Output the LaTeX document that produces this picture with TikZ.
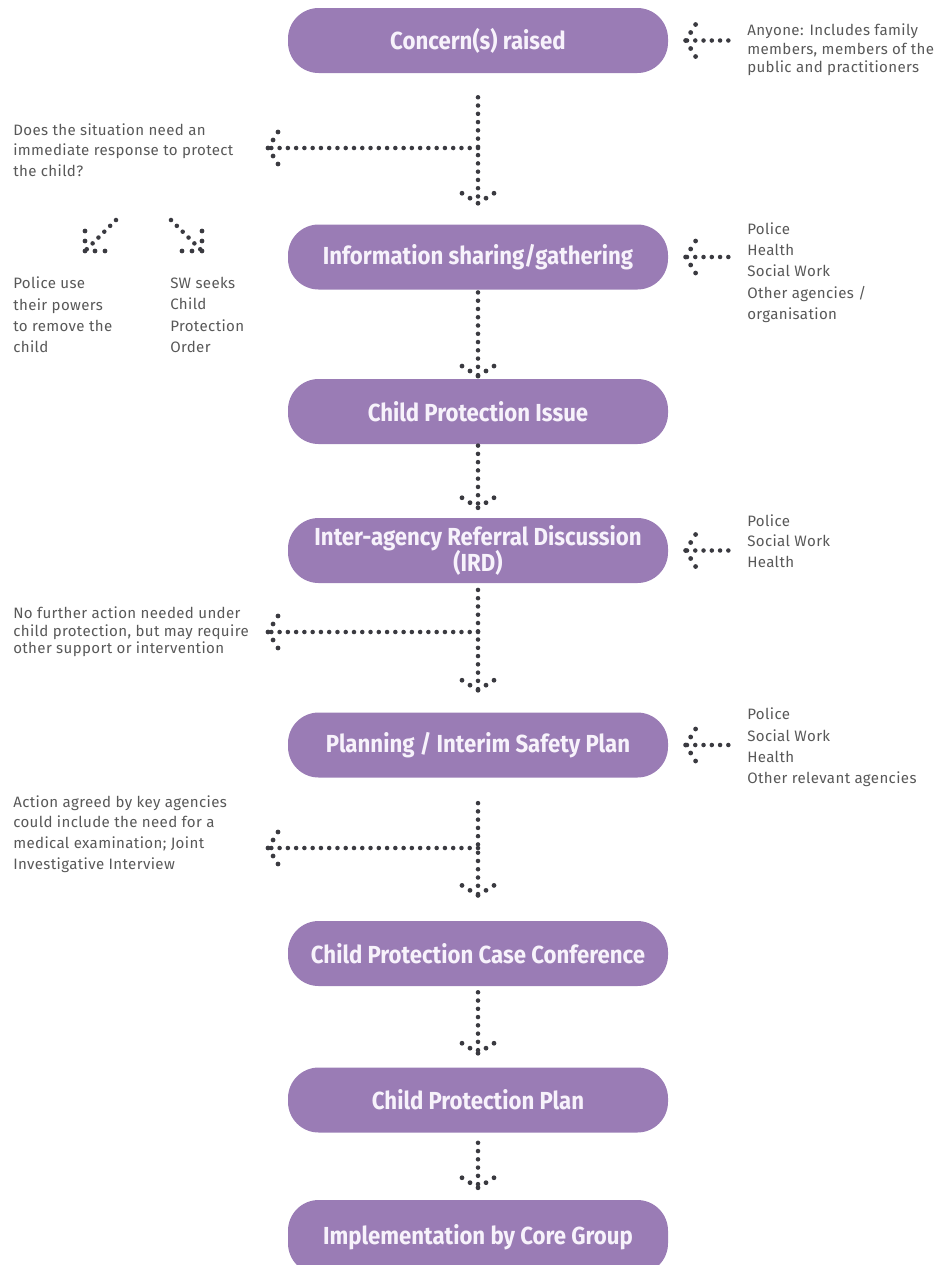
\documentclass[tikz,border=0pt]{standalone}
\usepackage{fontspec}
\setmainfont{Fira Sans}[LetterSpace=2.5]
\newfontfamily\stagefont[FakeStretch=0.9]{Fira Sans}
\usetikzlibrary{decorations.markings}
\definecolor{stagepurple}{RGB}{154,124,181}
\definecolor{stagetext}{RGB}{247,242,251}
\definecolor{dotgrey}{RGB}{58,58,64}
\definecolor{notegrey}{RGB}{88,88,88}

\begin{document}
\begin{tikzpicture}[x=0.75pt, y=-0.75pt]
        \tikzset{
          stage/.style={rectangle, rounded corners=23pt, fill=stagepurple, text=stagetext,
            minimum width=285pt, minimum height=48.75pt, inner sep=0pt, align=center,
            font=\stagefont\bfseries\fontsize{18.5}{20}\selectfont},
          note/.style={anchor=west, inner sep=0pt, text=notegrey, align=left,
            font=\fontsize{11.3}{15.5}\selectfont},
          dots/.style={draw=dotgrey, line width=3.4pt, line cap=round, dash pattern=on 0pt off 6.2pt},
          dotarrow/.style={dots, postaction=decorate, decoration={markings,
            mark=at position 1 with {\fill[dotgrey] (0pt,0pt) circle (1.8pt)
              (-3.8pt,6pt) circle (1.8pt) (-3.8pt,-6pt) circle (1.8pt)
              (-7.5pt,12pt) circle (1.8pt) (-7.5pt,-12pt) circle (1.8pt);}}},
          diagarrow/.style={dots, postaction=decorate, decoration={markings,
            mark=at position 1 with {\fill[dotgrey] (0pt,0pt) circle (1.8pt)
              (-5.3pt,5.3pt) circle (1.8pt) (-5.3pt,-5.3pt) circle (1.8pt)
              (-10.6pt,10.6pt) circle (1.8pt) (-10.6pt,-10.6pt) circle (1.8pt);}}},
        }
        \clip (0,0) rectangle (948,1265);
        % stages
        \node [stage] (concern) at (478,40.5) {Concern(s) raised};
        \node [stage] (info) at (478,257) {Information sharing/gathering};
        \node [stage] (issue) at (478,411.5) {Child Protection Issue};
        \node [stage] (ird) at (478,550.5) {Inter-agency Referral Discussion\\(IRD)};
        \node [stage] (planning) at (478,745) {Planning / Interim Safety Plan};
        \node [stage] (conference) at (478,953.5) {Child Protection Case Conference};
        \node [stage] (cpplan) at (478,1100) {Child Protection Plan};
        \node [stage, minimum height=55.5pt] (core) at (478,1237) {Implementation by Core Group};
        % who is involved
        \node [note, font=\fontsize{11.3}{14}\selectfont] (anyone) at (747,50) {Anyone: Includes family\\members, members of the\\public and practitioners};
        \node [note, font=\fontsize{11.3}{16}\selectfont] (gather) at (747,272.5) {Police\\Health\\Social Work\\Other agencies /\\organisation};
        \node [note] (irdwho) at (747,541) {Police\\Social Work\\Health};
        \node [note, font=\fontsize{11.3}{16}\selectfont] (planwho) at (747,747.5) {Police\\Social Work\\Health\\Other relevant agencies};
        % outcomes
        \node [note] (question) at (13,150) {Does the situation need an\\immediate response to protect\\the child?};
        \node [note, font=\fontsize{11.3}{16}\selectfont] (police) at (13,315) {Police use\\their powers\\to remove the\\child};
        \node [note, font=\fontsize{11.3}{16}\selectfont] (swseeks) at (170,315) {SW seeks\\Child\\Protection\\Order};
        \node [note, font=\fontsize{11.3}{13}\selectfont] (nofurther) at (13,632) {No further action needed under\\child protection, but may require\\other support or intervention};
        \node [note] (action) at (13,834) {Action agreed by key agencies\\could include the need for a\\medical examination; Joint\\Investigative Interview};
        \coordinate (qtip) at (268,148);
        \coordinate (nftip) at (268,632);
        \coordinate (actip) at (268,848);
        \coordinate (pfrom) at (116,220);
        \coordinate (pto) at (85,251);
        \coordinate (sfrom) at (171,220);
        \coordinate (sto) at (202,251);
        % main flow
        \draw [dotarrow] ([yshift=-18pt]concern.south) -- ([yshift=15.75pt]info.north);
        \draw [dotarrow] ([yshift=-2pt]info.south) -- ([yshift=2pt]issue.north);
        \draw [dotarrow] ([yshift=-1pt]issue.south) -- ([yshift=7.5pt]ird.north);
        \draw [dotarrow] ([yshift=-5pt]ird.south) -- ([yshift=16.5pt]planning.north);
        \draw [dotarrow] ([yshift=-19pt]planning.south) -- ([yshift=19pt]conference.north);
        \draw [dotarrow] ([yshift=-4.5pt]conference.south) -- ([yshift=10.5pt]cpplan.north);
        \draw [dotarrow] ([yshift=-7.5pt]cpplan.south) -- ([yshift=9pt]core.north);
        % branches
        \draw [dotarrow] (concern.south |- qtip) -- (qtip);
        \draw [dotarrow] (ird.south |- nftip) -- (nftip);
        \draw [dotarrow] (planning.south |- actip) -- (actip);
        \draw [diagarrow] (pfrom) -- (pto);
        \draw [diagarrow] (sfrom) -- (sto);
        % inputs
        \draw [dotarrow, shorten <=14pt] (anyone.west |- concern.east) -- ([xshift=13pt]concern.east);
        \draw [dotarrow, shorten <=14pt] (gather.west |- info.east) -- ([xshift=13pt]info.east);
        \draw [dotarrow, shorten <=14pt] (irdwho.west |- ird.east) -- ([xshift=13pt]ird.east);
        \draw [dotarrow, shorten <=14pt] (planwho.west |- planning.east) -- ([xshift=13pt]planning.east);
\end{tikzpicture}
\end{document}
